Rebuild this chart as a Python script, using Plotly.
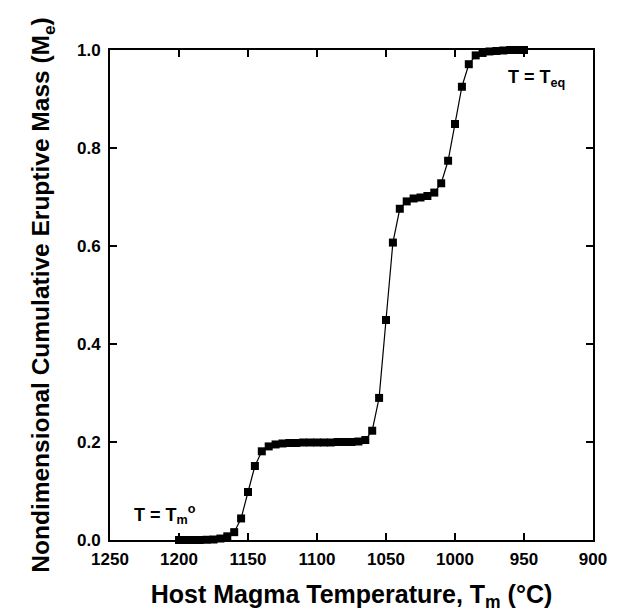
import plotly.graph_objects as go

temps = [1200, 1195, 1190, 1185, 1180, 1175, 1170, 1165, 1160, 1155,
         1150, 1145, 1140, 1135, 1130, 1125, 1120, 1115, 1110, 1105,
         1100, 1095, 1090, 1085, 1080, 1075, 1070, 1065, 1060, 1055,
         1050, 1045, 1040, 1035, 1030, 1025, 1020, 1015, 1010, 1005,
         1000, 995, 990, 985, 980, 975, 970, 965, 960, 955, 950]
mass = [0.0, 0.0, 0.0, 0.0, 0.0005, 0.001, 0.003, 0.0075, 0.016, 0.044,
        0.098, 0.151, 0.181, 0.191, 0.195, 0.197, 0.198, 0.198, 0.199, 0.199,
        0.199, 0.199, 0.199, 0.2, 0.2, 0.2, 0.201, 0.204, 0.223, 0.29,
        0.449, 0.607, 0.676, 0.691, 0.697, 0.699, 0.702, 0.709, 0.728, 0.774,
        0.849, 0.925, 0.971, 0.989, 0.994, 0.997, 0.998, 0.999, 1.0, 1.0, 1.0]

x_ticks = [1250, 1200, 1150, 1100, 1050, 1000, 950, 900]
y_ticks = [0.0, 0.2, 0.4, 0.6, 0.8, 1.0]

FONT = "Liberation Sans"

fig = go.Figure()
fig.add_trace(go.Scatter(
    x=temps, y=mass, mode="lines+markers",
    line=dict(color="black", width=1.2),
    marker=dict(symbol="square", size=8, color="black"),
    showlegend=False, cliponaxis=False,
))

axis_common = dict(
    showline=True, linecolor="black", linewidth=2, mirror="ticks",
    ticks="inside", ticklen=7, tickwidth=1.5, tickcolor="black",
    showgrid=False, zeroline=False,
    tickfont=dict(family=FONT, size=17, color="black", weight="bold"),
)

fig.update_xaxes(
    range=[1250, 900], tickvals=x_ticks, ticktext=[str(v) for v in x_ticks],
    title=dict(text="<b>Host Magma Temperature, T<sub>m</sub> (°C)</b>",
               font=dict(family=FONT, size=25, color="black"), standoff=17),
    ticklabelstandoff=3,
    **axis_common,
)
fig.update_yaxes(
    range=[0, 1.0], tickvals=y_ticks, ticktext=[f"{v:.1f}" for v in y_ticks],
    title=dict(text="<b>Nondimensional Cumulative Eruptive Mass (M<sub>e</sub>)</b>",
               font=dict(family=FONT, size=24.5, color="black"), standoff=20),
    ticklabelstandoff=4,
    **axis_common,
)

fig.add_annotation(x=1233.7, y=0.053, xref="x", yref="y", xanchor="left", yanchor="middle",
                   text="<b>T = T<sub>m</sub><sup>o</sup></b>", showarrow=False,
                   font=dict(family=FONT, size=18, color="black"))
fig.add_annotation(x=963, y=0.942, xref="x", yref="y", xanchor="left", yanchor="middle",
                   text="<b>T = T<sub>eq</sub></b>", showarrow=False,
                   font=dict(family=FONT, size=18, color="black"))

fig.update_layout(
    width=619, height=616,
    margin=dict(l=110, r=16, t=50, b=75),
    paper_bgcolor="white", plot_bgcolor="white",
)

fig.write_html("out.html", config={"displayModeBar": False},
               post_script="document.body.style.margin='0px';")
